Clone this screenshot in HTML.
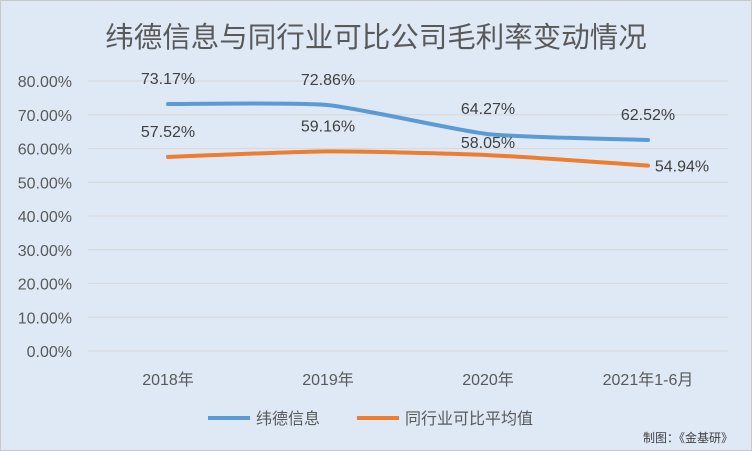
<!DOCTYPE html>
<html><head><meta charset="utf-8"><style>
body{margin:0;width:752px;height:451px;overflow:hidden;background:#dfe9f5;}
svg{display:block;font-family:"Liberation Sans","Noto Sans CJK SC",sans-serif;}
</style></head><body>
<svg id="chart" width="752" height="451">
<rect x="0.5" y="0.5" width="751" height="450" fill="#dfe9f5" stroke="#c8c8c8"/>
<text x="376" y="47" text-anchor="middle" font-size="28.5" fill="#595959">纬德信息与同行业可比公司毛利率变动情况</text>
<g id="grid"></g><g id="series"></g>
<g>
<line x1="208" y1="418" x2="250" y2="418" stroke="#5b9bd5" stroke-width="4"/>
<text x="256" y="424" font-size="16" fill="#595959">纬德信息</text>
<line x1="357" y1="418" x2="399" y2="418" stroke="#ed7d31" stroke-width="4"/>
<text x="405" y="424" font-size="16" fill="#595959">同行业可比平均值</text>
</g>
<text x="733" y="442" text-anchor="end" font-size="12" fill="#404040">制图：《金基研》</text>
</svg>
<script>
const categories=["2018年","2019年","2020年","2021年1-6月"];
const weide=[73.17,72.86,64.27,62.52];
const peer=[57.52,59.16,58.05,54.94];
const yTicks=[0,10,20,30,40,50,60,70,80];
const NS="http://www.w3.org/2000/svg";
const L=88,R=728,Y0=351,Y80=81;
const x=i=>L+(R-L)/categories.length*(i+0.5);
const y=v=>Y0-(Y0-Y80)*v/80;
const grid=document.getElementById('grid'),ser=document.getElementById('series');
function mk(tag,at,parent,txt){const e=document.createElementNS(NS,tag);for(const k in at)e.setAttribute(k,at[k]);if(txt!=null)e.textContent=txt;parent.appendChild(e);return e;}
yTicks.forEach(t=>{
 const g=mk('line',{x1:L,x2:R,y1:y(t),y2:y(t),stroke:'#d9d9d9','stroke-width':1.3},grid);
 
 
 const tx=mk('text',{x:72,y:y(t)+6,'text-anchor':'end','font-size':16,fill:'#595959'},grid,t.toFixed(2)+'%');
 
 
});
categories.forEach((c,i)=>{
 const tx=mk('text',{x:x(i),y:385,'text-anchor':'middle','font-size':16,fill:'#595959'},grid,c);
 
 
});
function smooth(pts){let d='M'+pts[0][0]+','+pts[0][1];for(let i=0;i<pts.length-1;i++){const p0=pts[i-1]||pts[i],p1=pts[i],p2=pts[i+1],p3=pts[i+2]||p2;const t=0.1;d+=' C'+(p1[0]+(p2[0]-p0[0])*t)+','+(p1[1]+(p2[1]-p0[1])*t)+' '+(p2[0]-(p3[0]-p1[0])*t)+','+(p2[1]-(p3[1]-p1[1])*t)+' '+p2[0]+','+p2[1];}return d;}
function draw(vals,color,name,lblOff){
 const p=mk('path',{d:smooth(vals.map((v,i)=>[x(i),y(v)])),fill:'none',stroke:color,'stroke-width':4,'stroke-linecap':'round'},ser);
 
 
 vals.forEach((v,i)=>{
  const o=lblOff[i];
  const t=mk('text',{x:x(i)+o[0],y:y(v)+o[1],'text-anchor':'middle','font-size':16,fill:'#404040'},ser,v.toFixed(2)+'%');
  
  
 });
}
draw(weide,'#5b9bd5','weide',[[0,-20],[0,-20],[0,-20],[0,-20]]);
draw(peer,'#ed7d31','peer',[[0,-20],[0,-20],[0,-7],[34,6]]);
</script>
</body></html>
